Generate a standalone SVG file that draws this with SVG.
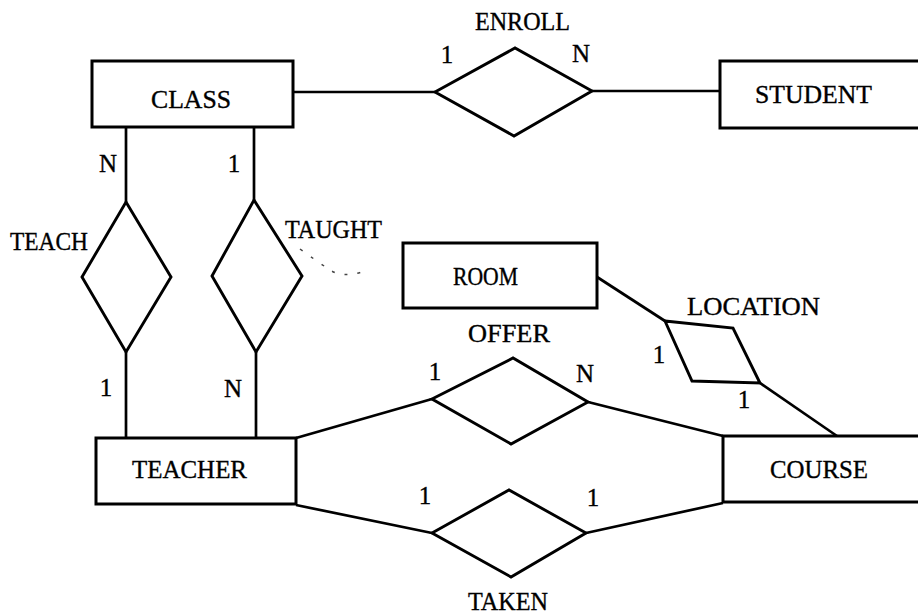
<svg xmlns="http://www.w3.org/2000/svg" width="918" height="616" viewBox="0 0 918 616">
  <style>
    .ent { fill: #fff; stroke: #000; stroke-width: 3; }
    .rel { fill: #fff; stroke: #000; stroke-width: 2.9; stroke-linejoin: miter; }
    .edge { fill: none; stroke: #000; stroke-width: 2.7; }
    .lbl { font-family: "Liberation Serif", "DejaVu Serif", serif; font-size: 24.5px; fill: #000; stroke: #000; stroke-width: 0.35; }
    .card { font-family: "Liberation Serif", "DejaVu Serif", serif; font-size: 25px; fill: #000; stroke: #000; stroke-width: 0.35; text-anchor: middle; }
    .smudge { fill: none; stroke: #444; stroke-width: 1.5; stroke-dasharray: 3 10; }
  </style>
  <rect width="918" height="616" fill="#fff"/>

  <!-- connectors -->
  <g id="connectors">
    <path class="edge" d="M293,92 H435"/>
    <path class="edge" d="M592,91 H720"/>
    <path class="edge" d="M126,127 V202"/>
    <path class="edge" d="M254,127 V200"/>
    <path class="edge" d="M126,352 V438"/>
    <path class="edge" d="M256,352 V438"/>
    <path class="edge" d="M296,438 L432,399"/>
    <path class="edge" d="M296,505 L432,533"/>
    <path class="edge" d="M588,402 L723,436"/>
    <path class="edge" d="M586,533 L723,503"/>
    <path class="edge" d="M597,277 L665,321"/>
    <path class="edge" d="M760,383 L837,436"/>
    <path class="smudge" d="M300,249 Q318,262 330,270 T362,272"/>
  </g>

  <!-- entities -->
  <g id="class">
    <rect class="ent" x="92" y="61" width="201" height="66"/>
    <text class="lbl" x="151" y="108" textLength="80" lengthAdjust="spacingAndGlyphs">CLASS</text>
  </g>
  <g id="student">
    <rect class="ent" x="720" y="61" width="210" height="67"/>
    <text class="lbl" x="755" y="103" textLength="117" lengthAdjust="spacingAndGlyphs">STUDENT</text>
  </g>
  <g id="teacher">
    <rect class="ent" x="96" y="438" width="200" height="66"/>
    <text class="lbl" x="132" y="478" textLength="115" lengthAdjust="spacingAndGlyphs">TEACHER</text>
  </g>
  <g id="course">
    <rect class="ent" x="723" y="436" width="210" height="66"/>
    <text class="lbl" x="770" y="478" textLength="98" lengthAdjust="spacingAndGlyphs">COURSE</text>
  </g>
  <g id="room">
    <rect class="ent" x="403" y="243" width="194" height="65"/>
    <text class="lbl" x="453" y="285" textLength="65" lengthAdjust="spacingAndGlyphs">ROOM</text>
  </g>

  <!-- relationships -->
  <g id="enroll">
    <polygon class="rel" points="435,92 515,48 592,91 514,136"/>
    <text class="lbl" x="475" y="30" textLength="95" lengthAdjust="spacingAndGlyphs">ENROLL</text>
    <text class="card" x="447" y="63">1</text>
    <text class="card" x="581" y="62">N</text>
  </g>
  <g id="teach">
    <polygon class="rel" points="126,202 171,277 126,352 82,277"/>
    <text class="lbl" x="10" y="250" textLength="78" lengthAdjust="spacingAndGlyphs">TEACH</text>
    <text class="card" x="108" y="172">N</text>
    <text class="card" x="106" y="396">1</text>
  </g>
  <g id="taught">
    <polygon class="rel" points="254,200 302,276 256,352 212,276"/>
    <text class="lbl" x="285" y="238" textLength="97" lengthAdjust="spacingAndGlyphs">TAUGHT</text>
    <text class="card" x="234" y="172">1</text>
    <text class="card" x="233" y="397">N</text>
  </g>
  <g id="offer">
    <polygon class="rel" points="432,399 513,358 588,402 511,444"/>
    <text class="lbl" x="468" y="342" textLength="82" lengthAdjust="spacingAndGlyphs">OFFER</text>
    <text class="card" x="435" y="380">1</text>
    <text class="card" x="585" y="382">N</text>
  </g>
  <g id="taken">
    <polygon class="rel" points="432,533 509,490 586,533 511,577"/>
    <text class="lbl" x="468" y="610" textLength="80" lengthAdjust="spacingAndGlyphs">TAKEN</text>
    <text class="card" x="425" y="504">1</text>
    <text class="card" x="593" y="506">1</text>
  </g>
  <g id="location">
    <polygon class="rel" points="665,321 733,328 760,383 692,381"/>
    <text class="lbl" x="687" y="315" textLength="133" lengthAdjust="spacingAndGlyphs">LOCATION</text>
    <text class="card" x="659" y="363">1</text>
    <text class="card" x="744" y="408">1</text>
  </g>
</svg>
